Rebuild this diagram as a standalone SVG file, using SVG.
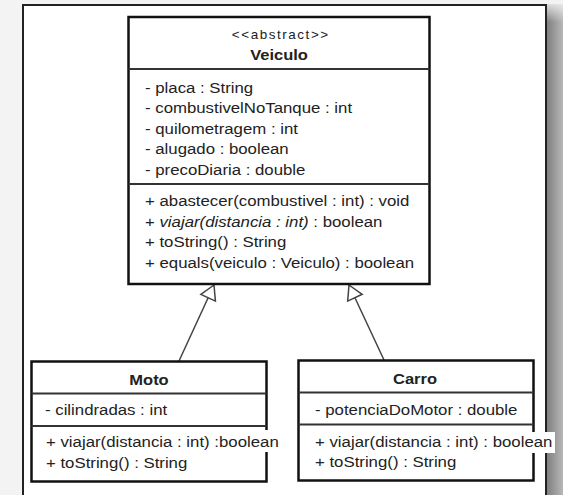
<svg xmlns="http://www.w3.org/2000/svg" width="563" height="495" viewBox="0 0 563 495">
  <defs>
    <linearGradient id="sideShadow" x1="0" y1="0" x2="1" y2="0">
      <stop offset="0" stop-color="#7c7c7c"/>
      <stop offset="1" stop-color="#b8b8b8"/>
    </linearGradient>
    <linearGradient id="topFade" x1="0" y1="0" x2="0" y2="1">
      <stop offset="0" stop-color="#f3f3f3" stop-opacity="1"/>
      <stop offset="1" stop-color="#f3f3f3" stop-opacity="0"/>
    </linearGradient>
    <marker id="inherit" viewBox="0 0 14 16" refX="14" refY="8" markerWidth="14" markerHeight="16" markerUnits="userSpaceOnUse" orient="auto" overflow="visible">
      <path d="M0,0 L14,8 L0,16 Z" fill="#fff" stroke="#444" stroke-width="1.5" stroke-linejoin="miter"/>
    </marker>
  </defs>
  <style>
    .box { fill: #fff; stroke: #111; stroke-width: 2.5; }
    .div { stroke: #333; stroke-width: 2; }
    .t { font-family: "Liberation Sans", Arial, sans-serif; font-size: 15px; fill: #222; }
    .b { font-weight: bold; }
    .st { font-size: 12px; }
    .mid { text-anchor: middle; }
    .conn { stroke: #444; stroke-width: 1.5; fill: none; }
  </style>

  <!-- page background, drop shadow and frame -->
  <rect x="0" y="0" width="563" height="495" fill="#f3f3f3"/>
  <rect x="546" y="4" width="17" height="491" fill="url(#sideShadow)"/>
  <rect x="544" y="0" width="19" height="22" fill="url(#topFade)"/>
  <rect x="23" y="5" width="523" height="495" fill="#fff" stroke="#222" stroke-width="2"/>

  <!-- connectors: generalization arrows -->
  <g id="connectors">
    <line class="conn" x1="179" y1="361" x2="214" y2="285" marker-end="url(#inherit)"/>
    <line class="conn" x1="384" y1="360" x2="349" y2="285" marker-end="url(#inherit)"/>
  </g>

  <!-- abstract class Veiculo -->
  <g id="veiculo">
    <rect class="box" x="128.5" y="17" width="301" height="267"/>
    <line class="div" x1="128.5" y1="69" x2="429.5" y2="69"/>
    <line class="div" x1="128.5" y1="184" x2="429.5" y2="184"/>
    <text class="t st mid" transform="translate(280 38.5) scale(1.12 1)" textLength="86" lengthAdjust="spacing">&lt;&lt;abstract&gt;&gt;</text>
    <text class="t b mid" transform="translate(279 59.5) scale(1.1 1)">Veiculo</text>
    <text class="t" transform="translate(145 92.5) scale(1.12 1)">- placa : String</text>
    <text class="t" transform="translate(145 113) scale(1.12 1)">- combustivelNoTanque : int</text>
    <text class="t" transform="translate(145 133.5) scale(1.12 1)">- quilometragem : int</text>
    <text class="t" transform="translate(145 154) scale(1.12 1)">- alugado : boolean</text>
    <text class="t" transform="translate(145 174.5) scale(1.12 1)">- precoDiaria : double</text>
    <text class="t" transform="translate(145 206) scale(1.12 1)">+ abastecer(combustivel : int) : void</text>
    <text class="t" transform="translate(145 226.5) scale(1.12 1)">+ <tspan font-style="italic">viajar(distancia : int)</tspan> : boolean</text>
    <text class="t" transform="translate(145 247) scale(1.12 1)">+ toString() : String</text>
    <text class="t" transform="translate(145 267.5) scale(1.12 1)">+ equals(veiculo : Veiculo) : boolean</text>
  </g>

  <!-- class Moto -->
  <g id="moto">
    <rect class="box" x="31.5" y="361.5" width="235" height="120"/>
    <line class="div" x1="31.5" y1="393.5" x2="266.5" y2="393.5"/>
    <line class="div" x1="31.5" y1="426" x2="266.5" y2="426"/>
    <rect x="262" y="430" width="22" height="22" fill="#fff"/>
    <text class="t b mid" transform="translate(149 385) scale(1.1 1)">Moto</text>
    <text class="t" transform="translate(45 415) scale(1.12 1)">- cilindradas : int</text>
    <text class="t" transform="translate(46 447) scale(1.12 1)">+ viajar(distancia : int) :boolean</text>
    <text class="t" transform="translate(46 467.5) scale(1.12 1)">+ toString() : String</text>
  </g>

  <!-- class Carro -->
  <g id="carro">
    <rect class="box" x="298.5" y="360.5" width="235" height="120"/>
    <line class="div" x1="298.5" y1="392.5" x2="533.5" y2="392.5"/>
    <line class="div" x1="298.5" y1="424.5" x2="533.5" y2="424.5"/>
    <rect x="528" y="432" width="27" height="21" fill="#fff"/>
    <text class="t b mid" transform="translate(415 383.5) scale(1.1 1)">Carro</text>
    <text class="t" transform="translate(315 414.5) scale(1.12 1)">- potenciaDoMotor : double</text>
    <text class="t" transform="translate(315 446.5) scale(1.12 1)">+ viajar(distancia : int) : boolean</text>
    <text class="t" transform="translate(315 467) scale(1.12 1)">+ toString() : String</text>
  </g>
</svg>
